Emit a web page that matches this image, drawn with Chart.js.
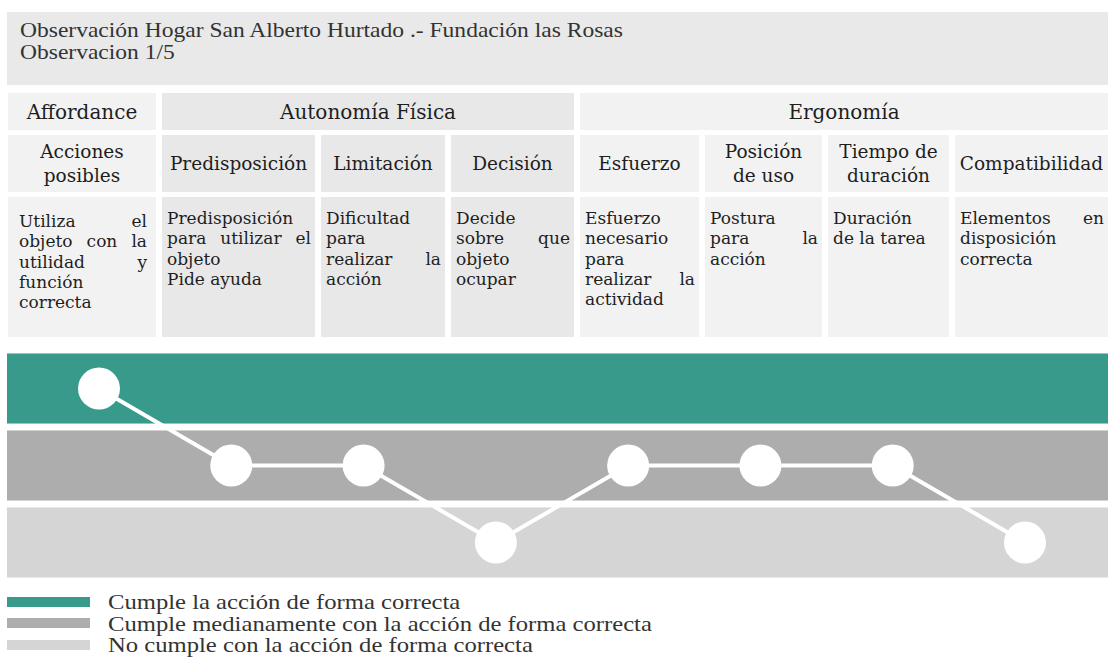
<!DOCTYPE html>
<html>
<head>
<meta charset="utf-8">
<script src="https://cdn.jsdelivr.net/npm/chart.js@4/dist/chart.umd.min.js"></script>
<style>
    body { margin: 0; width: 1108px; height: 669px; background: #fff; position: relative; overflow: hidden; }
    #title {
        position: absolute; left: 7px; top: 12px; width: 1088px; height: 66px;
        background: #e9e9e9; padding: 7px 0 0 13px;
        font: 21px/22px "Liberation Serif", serif; color: #333;
    }
    .wide { display: inline-block; transform: scaleX(1.12); transform-origin: left center; white-space: nowrap; }
    #grid {
        position: absolute; left: 8px; top: 93px; display: grid;
        grid-template-columns: 148px 153px 124px 123px 119px 117px 121px 153px;
        grid-template-rows: 37px 57px 140px;
        column-gap: 6px; row-gap: 5px;
        font-family: "DejaVu Serif", serif; color: #1e1e1e;
    }
    .cell { box-sizing: border-box; }
    .head1 { font-size: 20px; display: flex; align-items: center; justify-content: center; }
    .head2 { font-size: 18.5px; line-height: 24px; display: flex; align-items: center; justify-content: center; text-align: center; }
    .body { font-size: 17px; line-height: 20.3px; padding: 11px 4px 0 5px; }
    .body.first { padding: 14px 9px 0 11px; }
    .body div.j { text-align: justify; text-align-last: justify; }
    .light { background: #f2f2f2; }
    .dark { background: #e8e8e8; }
    #chartBox { position: absolute; left: 7px; top: 345px; width: 1101px; height: 240px; }
    #legend { position: absolute; left: 7px; top: 591px; font: 22px/21.5px "Liberation Serif", serif; color: #333; }
    #legend .row { display: flex; align-items: center; height: 21.5px; }
    #legend .sw { width: 83px; height: 10px; margin-right: 18px; flex: none; }
</style>
</head>
<body>
<div id="title"><span class="wide">Observación Hogar San Alberto Hurtado .- Fundación las Rosas</span><br><span class="wide">Observacion 1/5</span></div>
<div id="grid"></div>
<div id="chartBox"><canvas id="myChart"></canvas></div>
<div id="legend"></div>

<script>
// group headers: label, number of columns spanned, shade
const groups = ["Affordance", "Autonomía Física", "Ergonomía"];
const groupSpans = [1, 3, 4];
const groupShades = ["light", "dark", "light"];

// one criterion per column
const criteria = ["Acciones<br>posibles", "Predisposición", "Limitación", "Decisión", "Esfuerzo", "Posición<br>de uso", "Tiempo de<br>duración", "Compatibilidad"];
const columnShades = ["light", "dark", "dark", "dark", "light", "light", "light", "light"];
const descriptions = [
    [["Utiliza el", "objeto con la", "utilidad y", "función", "correcta"]],
    [["Predisposición", "para utilizar el", "objeto"], ["Pide ayuda"]],
    [["Dificultad", "para", "realizar la", "acción"]],
    [["Decide", "sobre que", "objeto", "ocupar"]],
    [["Esfuerzo", "necesario", "para", "realizar la", "actividad"]],
    [["Postura", "para la", "acción"]],
    [["Duración", "de la tarea"]],
    [["Elementos en", "disposición", "correcta"]],
];

// observed level per criterion: 3 = cumple, 2 = cumple medianamente, 1 = no cumple
const levels = [3, 2, 2, 1, 2, 2, 2, 1];

const bandLevels = [3, 2, 1];
const bandLabels = [
    "Cumple la acción de forma correcta",
    "Cumple medianamente con la acción de forma correcta",
    "No cumple con la acción de forma correcta",
];
const bandColors = ["#379a8b", "#adadad", "#d5d5d5"];

// table
const grid = document.getElementById("grid");
let col = 1;
groups.forEach((g, i) => {
    const d = document.createElement("div");
    d.className = "cell head1 " + groupShades[i];
    d.style.gridColumn = col + " / span " + groupSpans[i];
    d.textContent = g;
    grid.appendChild(d);
    col += groupSpans[i];
});
criteria.forEach((c, i) => {
    const d = document.createElement("div");
    d.className = "cell head2 " + columnShades[i];
    d.innerHTML = c;
    grid.appendChild(d);
});
descriptions.forEach((paras, i) => {
    const d = document.createElement("div");
    d.className = "cell body " + columnShades[i] + (i === 0 ? " first" : "");
    paras.forEach(lines => {
        lines.forEach((line, k) => {
            const l = document.createElement("div");
            if (k < lines.length - 1) l.className = "j";
            l.textContent = line;
            d.appendChild(l);
        });
    });
    grid.appendChild(d);
});

// legend
const legend = document.getElementById("legend");
bandLabels.forEach((label, i) => {
    const r = document.createElement("div");
    r.className = "row";
    r.innerHTML = '<span class="sw" style="background:' + bandColors[i] + '"></span><span class="wide">' + label + '</span>';
    legend.appendChild(r);
});

// horizontal bands behind the line, one per level
const bandsPlugin = {
    id: "bands",
    beforeDatasetsDraw(chart) {
        const {ctx, scales: {y}} = chart;
        ctx.save();
        bandLevels.forEach((lvl, i) => {
            const top = y.getPixelForValue(lvl + 0.455);
            const bottom = y.getPixelForValue(lvl - 0.455);
            ctx.fillStyle = bandColors[i];
            ctx.fillRect(0, top, chart.width, bottom - top);
        });
        ctx.restore();
    }
};

const ctx = document.getElementById("myChart").getContext("2d");
new Chart(ctx, {
    type: "line",
    data: {
        labels: criteria.map(c => c.replace("<br>", " ")),
        datasets: [{
            data: levels,
            borderColor: "#ffffff",
            borderWidth: 4,
            pointRadius: 21,
            pointBackgroundColor: "#ffffff",
            pointBorderWidth: 0,
            tension: 0,
            clip: false,
        }]
    },
    options: {
        animation: false,
        responsive: true,
        maintainAspectRatio: false,
        layout: {autoPadding: false, padding: {top: 5, bottom: 4, left: 92, right: 83}},
        plugins: {legend: {display: false}, tooltip: {enabled: false}},
        scales: {
            x: {display: false, offset: false},
            y: {display: false, min: 0.5, max: 3.5},
        },
    },
    plugins: [bandsPlugin]
});
</script>
</body>
</html>
